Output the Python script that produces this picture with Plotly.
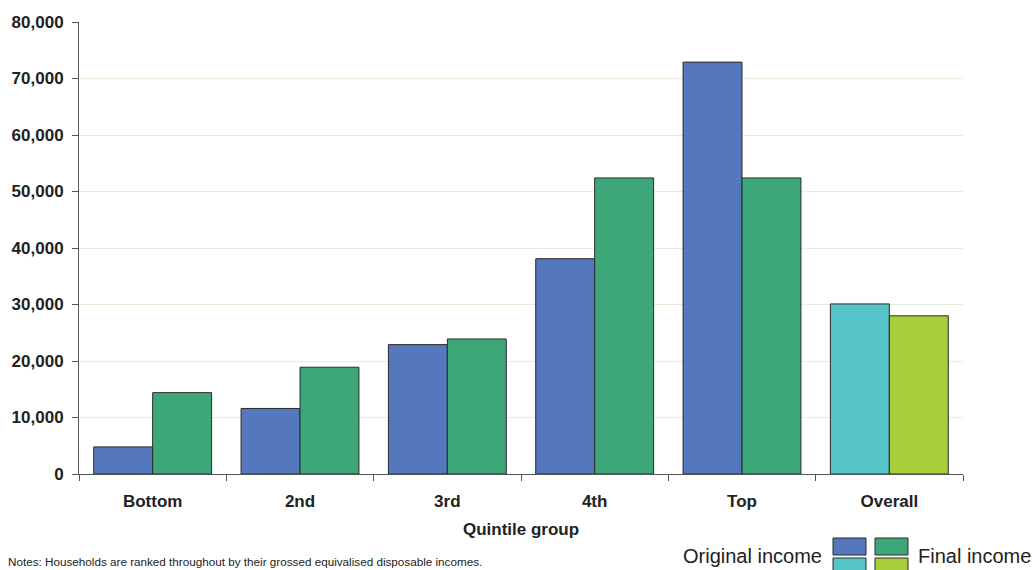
import plotly.graph_objects as go

categories = ["Bottom", "2nd", "3rd", "4th", "Top", "Overall"]
original_income = [4800, 11600, 22900, 38100, 72900, 30100]
final_income = [14400, 18900, 23900, 52400, 52400, 28000]
original_colors = ["#5577BD"] * 5 + ["#55C5CA"]
final_colors = ["#3DA77A"] * 5 + ["#A8CE3A"]
y_ticks = [0, 10000, 20000, 30000, 40000, 50000, 60000, 70000, 80000]

fig = go.Figure()
fig.add_trace(go.Bar(x=categories, y=original_income, name="Original income",
                     marker=dict(color=original_colors, line=dict(color="#2a2a2a", width=1))))
fig.add_trace(go.Bar(x=categories, y=final_income, name="Final income",
                     marker=dict(color=final_colors, line=dict(color="#2a2a2a", width=1))))

font_family = "Liberation Sans, Arial, sans-serif"
fig.update_layout(
    width=1035, height=570,
    margin=dict(l=79, r=72, t=22, b=96),
    paper_bgcolor="white", plot_bgcolor="white",
    barmode="group", bargap=0.2, bargroupgap=0,
    showlegend=False,
    font=dict(family=font_family, color="#222"),
    xaxis=dict(
        showline=True, linecolor="#555", linewidth=1,
        ticks="outside", tickson="boundaries", ticklen=6, tickcolor="#555",
        ticklabelstandoff=12,
        tickfont=dict(size=17, family=font_family, color="#222", weight="bold"),
        title=dict(text="<b>Quintile group</b>", font=dict(size=17, color="#222"), standoff=12),
        showgrid=False,
    ),
    yaxis=dict(
        range=[0, 80000], tickvals=y_ticks, tickformat=",d",
        showline=True, linecolor="#555", linewidth=1,
        ticks="outside", ticklen=6, tickcolor="#555",
        ticklabelstandoff=5,
        tickfont=dict(size=17, family=font_family, color="#222", weight="bold"),
        showgrid=True, gridcolor="#e3f0dc", gridwidth=1,
        zeroline=False,
    ),
)

def px_x(p):
    return (p - 79) / 884

def px_y(p):
    return (474 - p) / 452

# Notes
fig.add_annotation(text="Notes: Households are ranked throughout by their grossed equivalised disposable incomes.",
                   xref="paper", yref="paper", x=px_x(6), y=px_y(561), xanchor="left", yanchor="middle",
                   showarrow=False, font=dict(size=11.7, color="#222"))

# Custom legend
fig.add_annotation(text="Original income", xref="paper", yref="paper", x=px_x(824), y=px_y(556),
                   xanchor="right", yanchor="middle", showarrow=False, font=dict(size=20, color="#222"))
fig.add_annotation(text="Final income", xref="paper", yref="paper", x=px_x(916), y=px_y(556),
                   xanchor="left", yanchor="middle", showarrow=False, font=dict(size=20, color="#222"))
for (x0, x1, y0, y1, c) in [(833, 866, 538, 555, "#5577BD"), (833, 866, 558, 575, "#55C5CA"),
                            (875, 908, 538, 555, "#3DA77A"), (875, 908, 558, 575, "#A8CE3A")]:
    fig.add_shape(type="rect", xref="paper", yref="paper", x0=px_x(x0), x1=px_x(x1),
                  y0=px_y(y1), y1=px_y(y0), fillcolor=c, line=dict(color="#2a2a2a", width=1))

fig.write_html("out.html")
